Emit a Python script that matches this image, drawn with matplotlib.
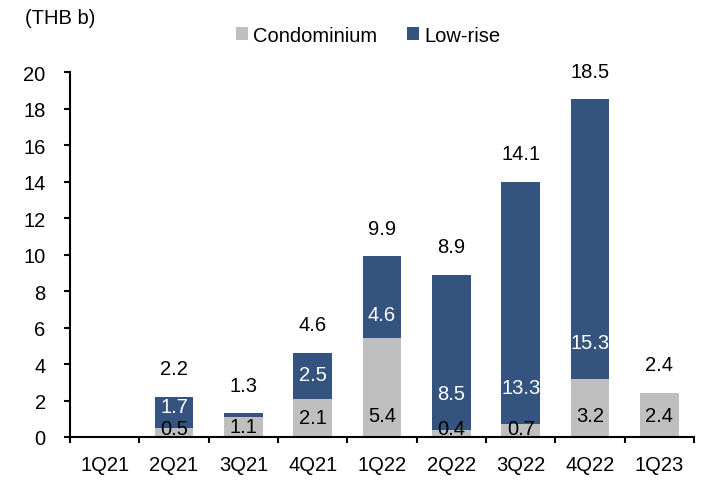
import matplotlib.pyplot as plt
import numpy as np

# Datos
trimestres = ['1Q21', '2Q21', '3Q21', '4Q21', '1Q22', '2Q22', '3Q22', '4Q22', '1Q23']
condominio = [0, 0.5, 1.1, 2.1, 5.4, 0.4, 0.7, 3.2, 2.4]
low_rise = [0, 1.7, 0.2, 2.5, 4.5, 8.5, 13.3, 15.3, 0]
total_lbl = [None, '2.2', '1.3', '4.6', '9.9', '8.9', '14.1', '18.5', '2.4']
condo_lbl = [None, '0.5', '1.1', '2.1', '5.4', '0.4', '0.7', '3.2', '2.4']
low_lbl = [None, '1.7', None, '2.5', '4.6', '8.5', '13.3', '15.3', None]

plt.rcParams['font.family'] = ['Liberation Sans', 'DejaVu Sans']
fs = 14.5

gris = '#BFBFBF'
azul = '#34537F'

fig = plt.figure(figsize=(7.26, 4.81), dpi=100)
ax = fig.add_axes([0.0964, 0.0894, 0.8596, 0.7586])

x = np.arange(len(trimestres))
c = np.array(condominio)
l = np.array(low_rise)
ax.bar(x, c, width=0.56, color=gris, label='Condominium')
ax.bar(x, l, width=0.56, bottom=c, color=azul, label='Low-rise')

for i in range(len(x)):
    if condo_lbl[i]:
        yc = min(max(c[i] / 2, 0.45), 1.2)
        ax.text(x[i], yc, condo_lbl[i], ha='center', va='center', fontsize=fs, color='black')
    if low_lbl[i]:
        yl = c[i] + min(1.3, l[i] / 2 + 0.3)
        if l[i] > 8:
            yl = c[i] + 2.0
        ax.text(x[i], yl, low_lbl[i], ha='center', va='center', fontsize=fs, color='white')
    if total_lbl[i]:
        ax.text(x[i], c[i] + l[i] + 1.55, total_lbl[i], ha='center', va='center',
                fontsize=fs, color='black', clip_on=False)

ax.set_xlim(-0.5, len(x) - 0.5)
ax.set_ylim(0, 20)
ax.set_yticks(range(0, 21, 2))
ax.set_xticks(x)
ax.set_xticklabels(trimestres)
ax.set_xticks(np.arange(-0.5, len(x)), minor=True)
ax.tick_params(axis='x', which='major', length=0, pad=13, labelsize=fs)
ax.tick_params(axis='x', which='minor', length=4.5, width=1.5, direction='out')
ax.tick_params(axis='y', length=4.5, width=1.5, direction='out', labelsize=fs, pad=13)
ax.spines['top'].set_visible(False)
ax.spines['right'].set_visible(False)
ax.spines['left'].set_linewidth(1.5)
ax.spines['bottom'].set_linewidth(1.5)

fig.text(0.034, 0.962, '(THB b)', fontsize=fs, va='center', ha='left')
fig.legend(loc='center', bbox_to_anchor=(0.507, 0.925), ncol=2, frameon=False,
           fontsize=fs, handlelength=0.6, handleheight=0.6, handletextpad=0.25,
           columnspacing=1.5)

plt.savefig('out.png', dpi=100)
